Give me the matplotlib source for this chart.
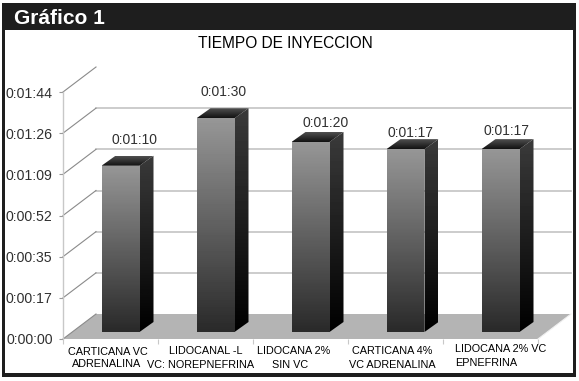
#!/usr/bin/env python3
import numpy as np
import matplotlib
matplotlib.use('Agg')
import matplotlib.pyplot as plt
from matplotlib.patches import Polygon, Rectangle

plt.rcParams['font.family'] = ['Liberation Sans', 'DejaVu Sans']

## Data
seconds = [70, 90, 80, 77, 77]
value_labels = ['0:01:10', '0:01:30', '0:01:20', '0:01:17', '0:01:17']
tick_seconds = [0, 17.33, 34.67, 52, 69.33, 86.67, 104]
tick_labels = ['0:00:00', '0:00:17', '0:00:35', '0:00:52', '0:01:09', '0:01:26', '0:01:44']
cat_line1 = ['CARTICANA VC', 'LIDOCANAL -L', 'LIDOCANA 2%', 'CARTICANA 4%', 'LIDOCANA 2% VC']
cat_line2 = ['ADRENALINA', 'VC: NOREPNEFRINA', 'SIN VC', 'VC ADRENALINA', 'EPNEFRINA']

W, H = 579, 381
X0, X1, Y0, Y1 = 63, 538, 339, 92    # plot box, front plane, pixels
fig = plt.figure(figsize=(W/100, H/100), dpi=100, facecolor='white')

## Frame
dark = '#1e1e1e'
for x, y, w, h in [(2, 3, 574, 27), (2, 3, 2.5, 374), (572.7, 3, 3.3, 374), (2, 372.7, 574, 4.3)]:
    fig.add_artist(Rectangle((x/W, 1-(y+h)/H), w/W, h/H, transform=fig.transFigure, fc=dark, ec='none'))
fig.text(14/W, 1-18/H, 'Gráfico 1', color='white', fontsize=15, fontweight='bold', va='center', ha='left')
fig.text(285/W, 1-44/H, 'TIEMPO DE INYECCION', color='black', fontsize=11.2, va='center', ha='center')

ax = fig.add_axes([X0/W, 1-Y0/H, (X1-X0)/W, (Y0-Y1)/H])
ax.patch.set_alpha(0)
ax.set_zorder(5)

## Oblique depth in data units
px_x = 5 / (X1-X0)
px_y = tick_seconds[-1] / (Y0-Y1)
depth_x, depth_y = 33*px_x, 25*px_y

## Floor and walls
ax.add_patch(Polygon([(-0.5, 0), (-0.5+depth_x, depth_y), (4.5+depth_x, depth_y), (4.5, 0)],
                     fc='#b4b4b4', ec='none', zorder=1, clip_on=False))
for t in tick_seconds:
    ax.plot([-0.5, -0.5+depth_x], [t, t+depth_y], color='#8a8a8a', lw=0.8, zorder=2, clip_on=False)
for t in tick_seconds[1:-1]:
    ax.plot([-0.5+depth_x, 4.5+depth_x], [t+depth_y, t+depth_y], color='#c4c4c4', lw=1.2, zorder=1, clip_on=False)
ax.plot([4.5, 4.5+depth_x], [0, depth_y], color='#f0f0f0', lw=0.8, zorder=2, clip_on=False)


def gradient(poly, top, bottom, box, zorder=3):
    # vertical grey ramp clipped to a polygon
    vals = np.linspace(top, bottom, 64).reshape(-1, 1)
    im = ax.imshow(vals, extent=box, aspect='auto', cmap='gray', vmin=0, vmax=255,
                   origin='upper', zorder=zorder, clip_on=True, interpolation='bilinear')
    p = Polygon(poly, transform=ax.transData, fc='none', ec='none')
    ax.add_patch(p)
    im.set_clip_path(p)


## Bars
bw = 38*px_x
bdx, bdy = 14*px_x, 10*px_y
off_x, off_y = 10*px_x, 7*px_y
for i, v in enumerate(seconds):
    l = i - bw/2 + off_x
    r = l + bw
    b = off_y
    t = off_y + v
    # front
    gradient([(l, b), (r, b), (r, t), (l, t)], 150, 42, (l, r, b, t))
    # side
    gradient([(r, b), (r+bdx, b+bdy), (r+bdx, t+bdy), (r, t)], 58, 0, (r, r+bdx, b, t+bdy))
    # top
    gradient([(l, t), (r, t), (r+bdx, t+bdy), (l+bdx, t+bdy)], 80, 18, (l, r+bdx, t, t+bdy))

## Axes
ax.set_xlim(-0.5, 4.5)
ax.set_ylim(0, tick_seconds[-1])
for s in ['top', 'right', 'bottom']:
    ax.spines[s].set_visible(False)
ax.spines['left'].set_color('#c8c8c8')
ax.spines['left'].set_linewidth(1.0)
ax.set_yticks(tick_seconds)
ax.set_yticklabels(tick_labels, fontsize=10.2, color='#303030')
ax.tick_params(axis='y', length=3, width=0.8, color='#999999', pad=4.5)
ax.set_xticks(np.arange(6)-0.5)
ax.set_xticklabels([])
ax.tick_params(axis='x', length=3.5, width=0.8, color='#c8c8c8')

## Value labels (nudges in pixels)
label_nudge = [(24, 33), (18, 33), (25, 26), (15, 23), (16, 25)]
for i, (v, s) in enumerate(zip(seconds, value_labels)):
    ax.annotate(s, xy=(i, v), xytext=label_nudge[i], textcoords='offset pixels',
                ha='center', va='center', fontsize=10, color='#303030', annotation_clip=False)

## Category labels, two hand-set lines each
line1_nudge = [(-3, -13), (0, -12), (-7, -12), (-3, -12), (10, -10)]
line2_nudge = [(-4, -25), (-5, -26), (-10, -26), (-3, -26), (-4, -24)]
for i in range(5):
    ax.annotate(cat_line1[i], xy=(i, 0), xytext=line1_nudge[i], textcoords='offset pixels',
                ha='center', va='center', fontsize=7.8, color='black', annotation_clip=False)
    ax.annotate(cat_line2[i], xy=(i, 0), xytext=line2_nudge[i], textcoords='offset pixels',
                ha='center', va='center', fontsize=7.8, color='black', annotation_clip=False)

fig.savefig('out.png', dpi=100)
